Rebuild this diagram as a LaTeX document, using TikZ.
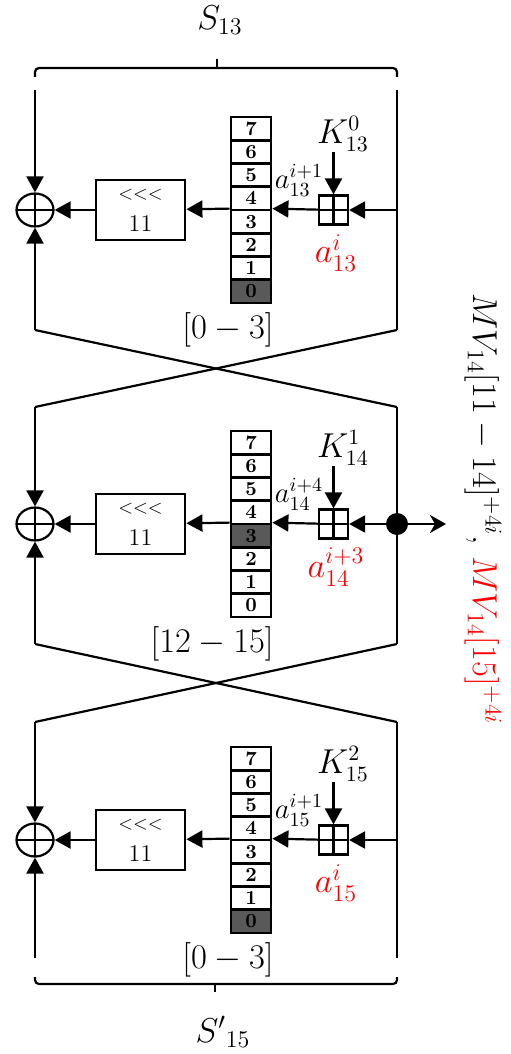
\documentclass[tikz,border=0pt]{standalone}
\usepackage{amsmath}
\usetikzlibrary{arrows.meta,shapes.geometric,calc}
\tikzset{
    linha/.style={line width=1.1pt},
    fluxo/.style={linha, -{Triangle[length=8pt,width=8.5pt]}},
    saida/.style={linha, -{Stealth[length=8pt,width=9pt,inset=2.5pt]}},
    cruz/.style={path picture={\draw[linha] (path picture bounding box.north) -- (path picture bounding box.south) (path picture bounding box.west) -- (path picture bounding box.east);}},
    xorno/.style={ellipse, draw, linha, cruz, minimum width=18.5pt, minimum height=16.5pt, inner sep=0pt},
    somamod/.style={rectangle, draw, linha, cruz, minimum size=14.5pt, inner sep=0pt},
    rotacao/.style={
        rectangle,
        draw,
        line width=1.4pt,
        align=center,
        minimum width=44.5pt,
        minimum height=30pt,
        inner sep=0pt,
        font=\fontsize{12}{16}\selectfont
    },
    celula/.style={rectangle, draw, line width=1.4pt, minimum width=20pt, minimum height=11.6pt, inner sep=0pt, font=\bfseries\fontsize{10}{10}\selectfont},
    ponto/.style={circle, fill, minimum size=11pt, inner sep=0pt},
    rotulo/.style={font=\fontsize{17}{20}\selectfont, inner sep=0pt},
    chave/.style={font=\fontsize{16}{18}\selectfont, inner sep=0pt},
    entrada/.style={font=\fontsize{14}{16}\selectfont, inner sep=0pt},
    vermelho/.style={font=\fontsize{17}{19}\selectfont, text=red, inner sep=0pt}
}

\begin{document}
\begin{tikzpicture}[x=0.5pt, y=-0.5pt]
    \useasboundingbox (0,0) rectangle (510,1054);

    % chave de cima
    \node[rotulo] (sup) at (220,20) {$S_{13}$};
    \draw[linha, rounded corners=2pt] (35,77) -- (35,68) -- (397,68) -- (397,77);
    \draw[linha] (217,68) -- (217,59);

    % tres blocos
    \foreach \blk/\y/\topo/\base/\sh/\kk/\aent/\asai/\faixa in {
        1/210/90/330/0/{K^{0}_{13}}/{a^{i+1}_{13}}/{a^{i}_{13}}/{[0-3]},
        2/524/407/644/3/{K^{1}_{14}}/{a^{i+4}_{14}}/{a^{i+3}_{14}}/{[12-15]},
        3/840/722/958/0/{K^{2}_{15}}/{a^{i+1}_{15}}/{a^{i}_{15}}/{[0-3]}}{
        \coordinate (tl\blk) at (35,\topo);
        \coordinate (tr\blk) at (397,\topo);
        \coordinate (bl\blk) at (35,\base);
        \coordinate (br\blk) at (397,\base);
        \coordinate (e\blk) at (397,\y);
        \node[xorno] (x\blk) at (35,\y) {};
        \node[rotacao] (rot\blk) at (140.5,\y) {{\fontsize{9.5}{16}\selectfont<{}<{}<}\\11};
        \foreach \cel in {0,...,7}{
            \ifnum\cel=\sh\relax \def\cor{black!65}\else\def\cor{white}\fi
            \node[celula, fill=\cor] (r\blk\cel) at (251,{\y+93-23.25*(\cel+0.5)}) {\cel};
        }
        \node[somamod] (s\blk) at (333.5,\y) {};
        \node[chave] (k\blk) at (343,\y-76) {$\kk$};
        \node[entrada] (ae\blk) at (299,\y-30) {$\aent$};
        \node[vermelho] (as\blk) at (336,\y+43) {$\asai$};
        \node[rotulo, anchor=east] (f\blk) at (274,\y+120) {$\faixa$};

        \draw[fluxo] (tl\blk) -- (x\blk);
        \draw[fluxo] (bl\blk) -- (x\blk);
        \draw[linha] (tr\blk) -- (br\blk);
        \draw[fluxo] (e\blk) -- (s\blk);
        \draw[fluxo] (k\blk.south -| s\blk) -- (s\blk);
        \draw[fluxo] (s\blk) -- (r\blk3.north east);
        \draw[fluxo] (r\blk3.north west) -- (rot\blk);
        \draw[fluxo] (rot\blk) -- (x\blk);
    }

    % cruzamentos
    \draw[linha] (bl1) -- (tr2);
    \draw[linha] (br1) -- (tl2);
    \draw[linha] (bl2) -- (tr3);
    \draw[linha] (br2) -- (tl3);

    % saida do bloco do meio
    \node[ponto] (pto) at (e2) {};
    \coordinate (fim) at (446,524);
    \draw[saida] (pto) -- (fim);
    \node[rotulo, font=\fontsize{18.5}{20}\selectfont, rotate=-90, anchor=base west] (mv) at (473,293) {$MV_{14}[11-14]^{+4i}$, \textcolor{red}{$MV_{14}[15]^{+4i}$}};

    % chave de baixo
    \draw[linha, rounded corners=2pt] (35,977) -- (35,984) -- (397,984) -- (397,977);
    \draw[linha] (215,984) -- (215,992);
    \node[rotulo] (inf) at (223,1032) {${S'}_{15}$};
\end{tikzpicture}
\end{document}
